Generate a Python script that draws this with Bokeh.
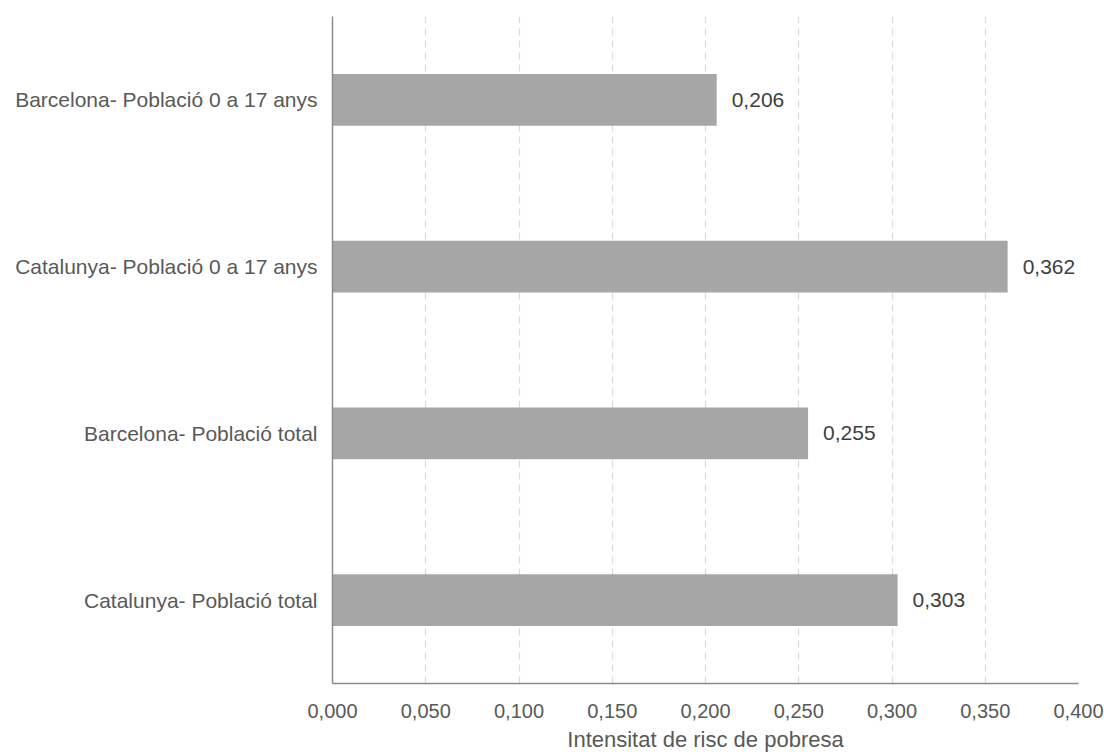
from bokeh.plotting import figure
from bokeh.models import FactorRange, Range1d, FixedTicker, ColumnDataSource
from bokeh.core.properties import value
from bokeh.embed import file_html
from bokeh.resources import INLINE

categories = [
    "Barcelona- Població 0 a 17 anys",
    "Catalunya- Població 0 a 17 anys",
    "Barcelona- Població total",
    "Catalunya- Població total",
]
values = [0.206, 0.362, 0.255, 0.303]
x_ticks = [0.0, 0.05, 0.1, 0.15, 0.2, 0.25, 0.3, 0.35, 0.4]
x_title = "Intensitat de risc de pobresa"

def fmt(v):
    return ("%.3f" % v).replace(".", ",")

FONT = "Liberation Sans"
TXT = "#595959"

src = ColumnDataSource(dict(cat=categories, val=values, lab=[fmt(v) for v in values]))

p = figure(
    width=1104, height=754,
    y_range=FactorRange(factors=list(reversed(categories)), range_padding=0),
    x_range=Range1d(0, 0.4),
    output_backend="svg", toolbar_location=None,
    min_border_left=332, min_border_right=26, min_border_top=16, min_border_bottom=71,
)
p.outline_line_color = None
p.background_fill_color = "white"
p.border_fill_color = "white"

p.hbar(y="cat", right="val", left=0, height=0.31, source=src,
       fill_color="#a6a6a6", line_color=None)
p.text(x="val", y="cat", text="lab", source=src, x_offset=15,
       text_baseline="middle", text_align="left",
       text_font=value(FONT), text_font_size="21px", text_color="#404040")

p.xaxis.ticker = FixedTicker(ticks=x_ticks)
p.xaxis.major_label_overrides = {t: fmt(t) for t in x_ticks}
p.xaxis.axis_label = x_title
p.xaxis.axis_label_text_font = FONT
p.xaxis.axis_label_text_font_style = "normal"
p.xaxis.axis_label_text_font_size = "22px"
p.xaxis.axis_label_text_color = TXT
p.xaxis.axis_label_standoff = 6

for ax in (p.xaxis, p.yaxis):
    ax.major_label_text_font = FONT
    ax.major_label_text_color = TXT
    ax.major_tick_line_color = None
    ax.minor_tick_line_color = None
    ax.axis_line_color = "#8c8c8c"
    ax.axis_line_width = 1.5

p.xaxis.major_label_text_font_size = "20px"
p.yaxis.major_label_text_font_size = "21px"
p.xaxis.major_label_standoff = 14
p.yaxis.major_label_standoff = 9

p.xgrid.grid_line_color = "#d9d9d9"
p.xgrid.grid_line_dash = "7 5"
p.xgrid.grid_line_width = 1.2
p.ygrid.grid_line_color = None

open("out.html", "w").write(file_html(p, INLINE))
